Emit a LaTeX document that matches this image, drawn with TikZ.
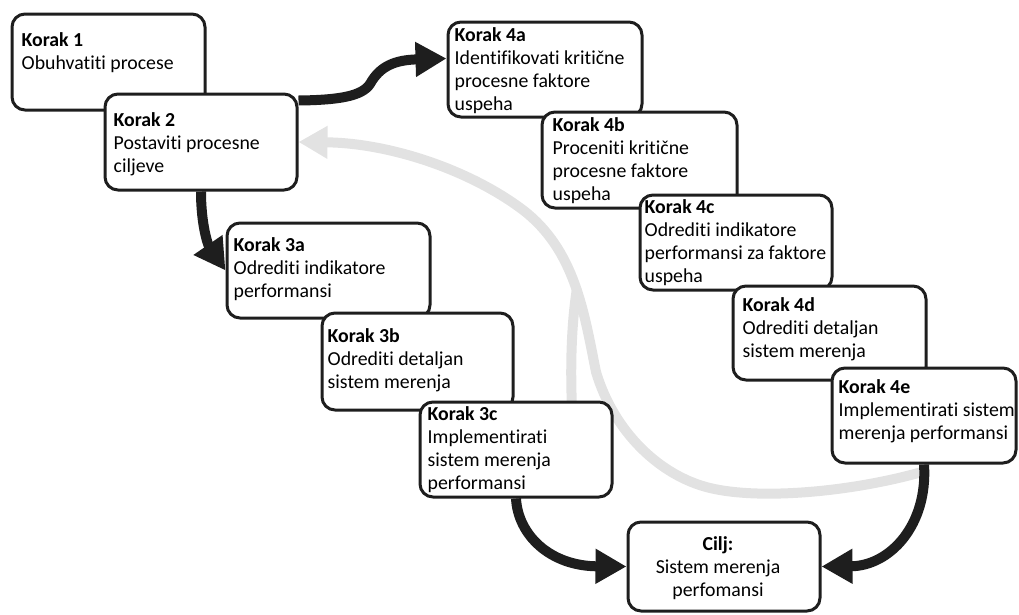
\documentclass[tikz,border=0pt]{standalone}
\usepackage{fontspec}
\setmainfont{Carlito}[Ligatures={NoCommon}]
\usetikzlibrary{arrows.meta,calc}
\pgfdeclarelayer{background}
\pgfsetlayers{background,main}
\definecolor{edge}{HTML}{1E1E1E}
\definecolor{flowgray}{HTML}{E2E2E2}
\tikzset{
  stepbox/.style={draw=edge, line width=3pt, rounded corners=13pt, fill=white, inner sep=0pt},
  steptext/.style={inner sep=0pt, anchor=base west, font=\fontsize{19.8}{23}\selectfont, text=black},
  flow/.style={draw=edge, line width=10pt, -{Triangle[length=31pt,width=33pt]}},
  feedback/.style={draw=flowgray, line width=10pt},
  feedbackhead/.style={-{Triangle[length=29pt,width=31pt]}},
}
\newcommand{\stepcontent}[2]{\begin{tabular}[t]{@{}l@{}}\textbf{#1}\\#2\end{tabular}}
\begin{document}
\begin{tikzpicture}[x=1pt,y=-1pt]
\useasboundingbox (0,0) rectangle (1019,614);

% boxes, each followed by its text, in stacking order
\node[stepbox, minimum width=193pt, minimum height=96pt] (k1) at (108.5,62) {};
\node[steptext] (t1) at ($(k1.north west)+(11,34)$) {\stepcontent{Korak 1}{Obuhvatiti procese}};

\node[stepbox, minimum width=192pt, minimum height=96pt] (k2) at (201,142) {};
\node[steptext] (t2) at ($(k2.north west)+(10,34)$) {\stepcontent{Korak 2}{Postaviti procesne\\ciljeve}};

\node[stepbox, minimum width=194pt, minimum height=95pt] (k4a) at (545,69.5) {};
\node[steptext] (t4a) at ($(k4a.north west)+(8,21)$) {\stepcontent{Korak 4a}{Identifikovati kritične\\procesne faktore\\uspeha}};

\node[stepbox, minimum width=195pt, minimum height=96pt] (k4b) at (639.5,160) {};
\node[steptext] (t4b) at ($(k4b.north west)+(12,21)$) {\stepcontent{Korak 4b}{Proceniti kritične\\procesne faktore\\uspeha}};

\node[stepbox, minimum width=192pt, minimum height=95pt] (k4c) at (736,242.5) {};
\node[steptext] (t4c) at ($(k4c.north west)+(6,20)$) {\stepcontent{Korak 4c}{Odrediti indikatore\\performansi za faktore\\uspeha}};

\node[stepbox, minimum width=193pt, minimum height=94pt] (k4d) at (829.5,333) {};
\node[steptext] (t4d) at ($(k4d.north west)+(11,27)$) {\stepcontent{Korak 4d}{Odrediti detaljan\\sistem merenja}};

\node[stepbox, minimum width=184pt, minimum height=95pt] (k4e) at (924,415.5) {};
\node[steptext] (t4e) at ($(k4e.north west)+(8,27)$) {\stepcontent{Korak 4e}{Implementirati sistem\\merenja performansi}};

\node[stepbox, minimum width=203pt, minimum height=95pt] (k3a) at (328.5,270.5) {};
\node[steptext] (t3a) at ($(k3a.north west)+(8,30)$) {\stepcontent{Korak 3a}{Odrediti indikatore\\performansi}};

\node[stepbox, minimum width=191pt, minimum height=97pt] (k3b) at (417.5,361.5) {};
\node[steptext] (t3b) at ($(k3b.north west)+(7,31)$) {\stepcontent{Korak 3b}{Odrediti detaljan\\sistem merenja}};

\node[stepbox, minimum width=192pt, minimum height=95pt] (k3c) at (516,449.5) {};
\node[steptext] (t3c) at ($(k3c.north west)+(9,20)$) {\stepcontent{Korak 3c}{Implementirati\\sistem merenja\\performansi}};

\node[stepbox, minimum width=192pt, minimum height=89pt] (goal) at (724,566.5) {};
\node[steptext, anchor=base] (tgoal) at ($(goal.north)+(-6,30)$)
  {\begin{tabular}[t]{@{}c@{}}\textbf{Cilj:}\\Sistem merenja\\perfomansi\end{tabular}};

% connectors behind the boxes
\begin{pgfonlayer}{background}
  % feedback loop back to step 2
  \draw[feedback, feedbackhead] ($(k4e.south)+(-4,8)$)
    .. controls (850,492) and (760,500) .. (710,488)
    .. controls (660,476) and (614,432) .. (596,372)
    .. controls (584,312) and (575,250) .. (523,210)
    .. controls (470,170) and (390,143) .. (k2.east);
  \draw[feedback] ($(k3c.north)+(56,8)$)
    .. controls (570,360) and (572,320) .. (577,288);
  % main flow
  \draw[flow] ($(k2.north east)+(0,8)$)
    .. controls (340,100) and (362,96) .. (370,84)
    .. controls (380,66) and (395,60) .. ($(k4a.north west)+(0,38)$);
  \draw[flow] (k2.south) .. controls (201,225) and (208,245) .. (k3a.west);
  \draw[flow] (k3c.south) .. controls (518,535) and (550,566) .. (goal.west);
  \draw[flow] (k4e.south) .. controls (928,525) and (890,566) .. (goal.east);
\end{pgfonlayer}
\end{tikzpicture}
\end{document}
